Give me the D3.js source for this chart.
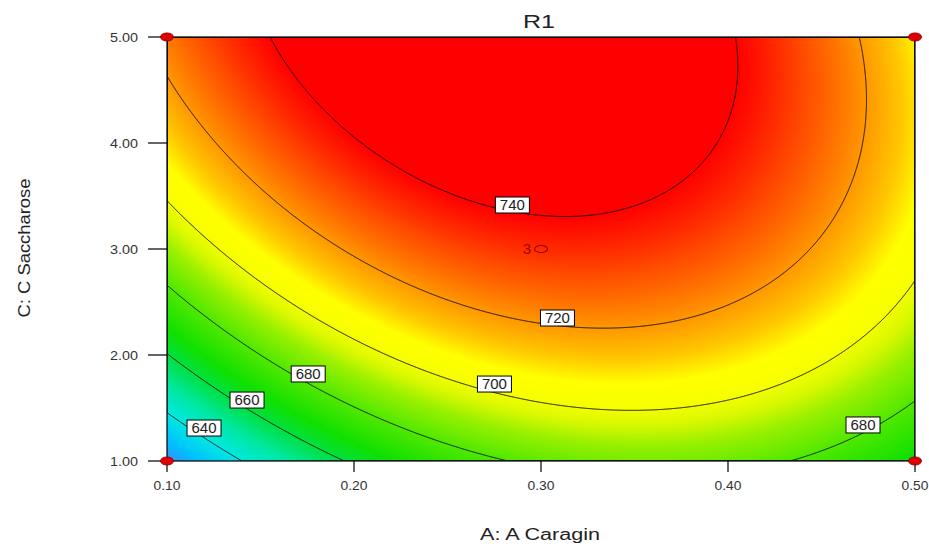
<!DOCTYPE html>
<html><head><meta charset="utf-8">
<script src="https://cdn.jsdelivr.net/npm/d3@7"></script>
<style>
body{margin:0;background:#fff}
svg{display:block}
text{font-family:Arial,"Liberation Sans",sans-serif}
</style>
</head><body>
<svg id="chart" width="929" height="557"></svg>
<script>
// ---------- data ----------
const chartTitle = "R1";
const xTitle = "A: A Caragin";
const yTitle = "C: C Saccharose";
const xDomain = [0.10, 0.50];
const yDomain = [1.00, 5.00];
const xTicks = [0.10, 0.20, 0.30, 0.40, 0.50];
const yTicks = [1.00, 2.00, 3.00, 4.00, 5.00];
// fitted quadratic response surface (coded factors): 1, A, C, A^2, C^2, A*C
const modelTerms = ["1", "A", "C", "A2", "C2", "AC"];
const modelCoefs = [734.7, 7.15, 36.1, -38.35, -16.35, -15.0];
const contourLevels = [640, 660, 680, 700, 720, 740];
const labelLevels = [740, 720, 700, 680, 660, 640, 680];
const labelA = [0.2847, 0.3088, 0.2751, 0.1755, 0.1428, 0.1198, 0.4722];
const labelC = [3.415, 2.349, 1.726, 1.821, 1.575, 1.311, 1.340];
const designA = [0.10, 0.50, 0.10, 0.50];
const designC = [5.00, 5.00, 1.00, 1.00];
const centerA = [0.30];
const centerC = [3.00];
const centerCount = ["3"];
const colorValues = [622, 630, 640, 650, 660, 668, 680, 690, 696, 701, 707, 713, 721, 731, 740];
const colorRange = ["#3a8cff", "#00c0ff", "#00e8e0", "#00e8a0", "#00e040", "#10e000", "#50e800",
                    "#98f000", "#d8f800", "#f8ff00", "#ffff00", "#ffc800", "#ff9000", "#ff4800", "#ff0000"];

// ---------- layout ----------
const L = 167, R = 915, T = 37, B = 461;
const W = R - L, H = B - T;
const svg = d3.select("#chart");
const x = d3.scaleLinear().domain(xDomain).range([L, R]);
const y = d3.scaleLinear().domain(yDomain).range([B, T]);
const color = d3.scaleLinear().domain(colorValues).range(colorRange).clamp(true);

function response(A, C) {
  const a = (A - (xDomain[0] + xDomain[1]) / 2) / ((xDomain[1] - xDomain[0]) / 2);
  const c = (C - (yDomain[0] + yDomain[1]) / 2) / ((yDomain[1] - yDomain[0]) / 2);
  const t = {"1": 1, "A": a, "C": c, "A2": a * a, "C2": c * c, "AC": a * c};
  let z = 0;
  modelTerms.forEach((k, i) => z += modelCoefs[i] * t[k]);
  return z;
}

// grid of values per pixel
const values = new Float64Array(W * H);
for (let j = 0; j < H; j++) {
  const C = y.invert(T + j + 0.5);
  for (let i = 0; i < W; i++) {
    values[j * W + i] = response(x.invert(L + i + 0.5), C);
  }
}

// heat map image
const canvas = document.createElement("canvas");
canvas.width = W; canvas.height = H;
const ctx = canvas.getContext("2d");
const img = ctx.createImageData(W, H);
for (let k = 0; k < W * H; k++) {
  const c = d3.rgb(color(values[k]));
  img.data[4 * k] = c.r; img.data[4 * k + 1] = c.g; img.data[4 * k + 2] = c.b; img.data[4 * k + 3] = 255;
}
ctx.putImageData(img, 0, 0);
svg.append("image").attr("x", L).attr("y", T).attr("width", W).attr("height", H)
  .attr("preserveAspectRatio", "none").attr("href", canvas.toDataURL());

// contours
svg.append("defs").append("clipPath").attr("id", "plotclip")
  .append("rect").attr("x", L).attr("y", T).attr("width", W).attr("height", H);
const contours = d3.contours().size([W, H]).thresholds(contourLevels)(Array.from(values));
const path = d3.geoPath(d3.geoIdentity().translate([L, T]));
svg.append("g").attr("clip-path", "url(#plotclip)")
  .selectAll("path").data(contours).join("path")
  .attr("d", path).attr("fill", "none").attr("stroke", "#111").attr("stroke-width", 1);

// frame
svg.append("rect").attr("x", L).attr("y", T).attr("width", W).attr("height", H)
  .attr("fill", "none").attr("stroke", "#000").attr("stroke-width", 1.2);

// axes ticks
const gx = svg.append("g");
xTicks.forEach(v => {
  gx.append("line").attr("x1", x(v)).attr("x2", x(v)).attr("y1", B).attr("y2", B + 11)
    .attr("stroke", "#000").attr("stroke-width", 1.2);
  gx.append("text").attr("x", x(v)).attr("y", B + 29).attr("text-anchor", "middle")
    .attr("font-size", 13).attr("fill", "#333").attr("textLength", 27)
    .attr("lengthAdjust", "spacingAndGlyphs").text(v.toFixed(2));
});
const gy = svg.append("g");
yTicks.forEach(v => {
  gy.append("line").attr("x1", L - 19).attr("x2", L).attr("y1", y(v)).attr("y2", y(v))
    .attr("stroke", "#000").attr("stroke-width", 1.2);
  gy.append("text").attr("x", 138).attr("y", y(v) + 4.5).attr("text-anchor", "end")
    .attr("font-size", 13).attr("fill", "#333").attr("textLength", 28)
    .attr("lengthAdjust", "spacingAndGlyphs").text(v.toFixed(2));
});

// design points
svg.append("g").selectAll("ellipse").data(designA).join("ellipse")
  .attr("cx", d => x(d)).attr("cy", (d, i) => y(designC[i]))
  .attr("rx", 6.5).attr("ry", 4).attr("fill", "#e00000").attr("stroke", "#900000").attr("stroke-width", 1);
centerA.forEach((a, i) => {
  svg.append("ellipse").attr("cx", x(a)).attr("cy", y(centerC[i])).attr("rx", 6.5).attr("ry", 3.6)
    .attr("fill", "none").attr("stroke", "#a00000").attr("stroke-width", 1.2);
  svg.append("text").attr("x", x(a) - 10).attr("y", y(centerC[i]) + 5).attr("text-anchor", "end")
    .attr("font-size", 15).attr("fill", "#a00000").text(centerCount[i]);
});

// contour labels
const gl = svg.append("g");
labelLevels.forEach((lv, i) => {
  const cx = x(labelA[i]), cy = y(labelC[i]);
  gl.append("rect").attr("x", cx - 17).attr("y", cy - 8).attr("width", 34).attr("height", 16)
    .attr("fill", "#fff").attr("stroke", "#000").attr("stroke-width", 1);
  gl.append("text").attr("x", cx).attr("y", cy + 5).attr("text-anchor", "middle")
    .attr("font-size", 14).attr("fill", "#222").attr("textLength", 25)
    .attr("lengthAdjust", "spacingAndGlyphs").text(lv);
});

// titles
svg.append("text").attr("x", 539).attr("y", 28).attr("text-anchor", "middle")
  .attr("font-size", 18).attr("fill", "#222").attr("textLength", 32)
  .attr("lengthAdjust", "spacingAndGlyphs").text(chartTitle);
svg.append("text").attr("x", 540).attr("y", 540).attr("text-anchor", "middle")
  .attr("font-size", 16).attr("fill", "#222").attr("textLength", 120)
  .attr("lengthAdjust", "spacingAndGlyphs").text(xTitle);
svg.append("text").attr("transform", "translate(30,248) rotate(-90)").attr("text-anchor", "middle")
  .attr("font-size", 17).attr("fill", "#222").attr("textLength", 139)
  .attr("lengthAdjust", "spacingAndGlyphs").text(yTitle);
</script>
</body></html>
